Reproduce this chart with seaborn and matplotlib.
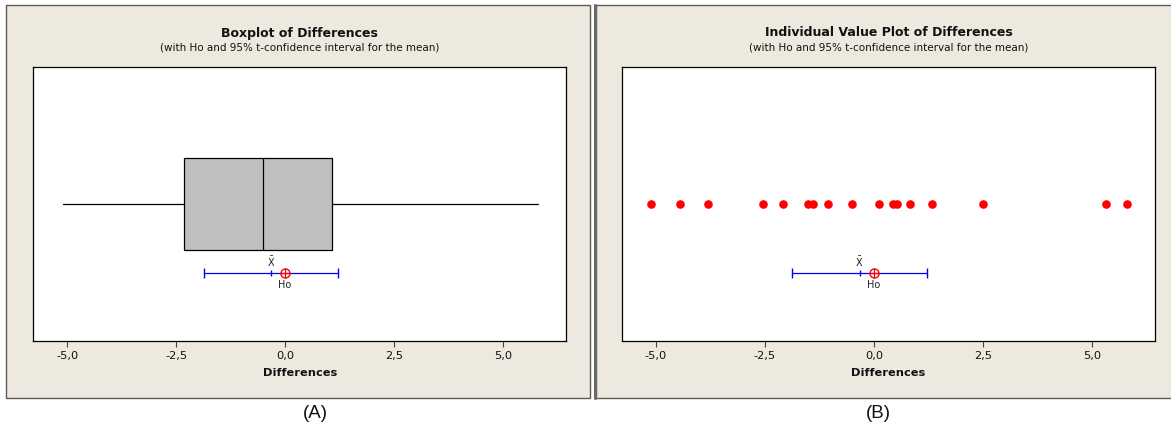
import numpy as np
import matplotlib
matplotlib.use("Agg")
import matplotlib.pyplot as plt
from matplotlib.patches import Rectangle
from matplotlib.lines import Line2D
import seaborn as sns

# ---- data ----
differences = [-5.10, -4.45, -3.80, -2.55, -2.09, -1.51, -1.39, -1.05, -0.51,
               0.12, 0.44, 0.54, 0.83, 1.34, 2.51, 5.33, 5.80]
ci_bounds = [-1.87, 1.22]          # 95% t-confidence interval for the mean
h0_value = 0.0
tick_values = [-5.0, -2.5, 0.0, 2.5, 5.0]
tick_labels = ["-5,0", "-2,5", "0,0", "2,5", "5,0"]
x_limits = [-5.78, 6.45]
titles = ["Boxplot of Differences", "Individual Value Plot of Differences"]
subtitle = "(with Ho and 95% t-confidence interval for the mean)"
panel_tags = ["(A)", "(B)"]

sns.set_theme(style="white")
plt.rcParams["font.family"] = ["DejaVu Sans"]

W, H = 1171, 428
fig = plt.figure(figsize=(W / 100, H / 100), dpi=100)
fig.patch.set_facecolor("white")

def fx(px):
    return px / W

def fy(py):
    return 1 - py / H

panel_bg = "#EDE9DF"
# panels
fig.add_artist(Rectangle((fx(6), fy(398)), (590 - 6) / W, (398 - 5) / H,
                         transform=fig.transFigure, facecolor=panel_bg,
                         edgecolor="#5a5a5a", lw=1.0, zorder=0))
fig.add_artist(Rectangle((fx(596), fy(398)), (1180 - 596) / W, (398 - 5) / H,
                         transform=fig.transFigure, facecolor=panel_bg,
                         edgecolor="#5a5a5a", lw=1.0, zorder=0))
fig.add_artist(Line2D([fx(595), fx(595)], [fy(5), fy(398)],
                      transform=fig.transFigure, color="#6a6a6a", lw=2.2, zorder=1))

axA = fig.add_axes([fx(33.3), fy(341), (566 - 33.3) / W, (341 - 67) / H])
axB = fig.add_axes([fx(621.7), fy(341), (1155.3 - 621.7) / W, (341 - 67) / H])

data = np.array(differences)
mean_val = data.mean()

# ---- (A) boxplot ----
q1, med, q3 = np.percentile(data, [25, 50, 75], method="weibull")
stats = [dict(med=med, q1=q1, q3=q3, whislo=data.min(), whishi=data.max(), fliers=[])]
axA.bxp(stats, positions=[0.5], widths=0.336, vert=False, showcaps=False,
        patch_artist=True,
        boxprops=dict(facecolor="#C0C0C0", edgecolor="black", linewidth=0.9),
        medianprops=dict(color="black", linewidth=0.9),
        whiskerprops=dict(color="black", linewidth=0.9))
axA.set_ylim(0, 1)

# ---- (B) individual value plot ----
sns.stripplot(x=data, ax=axB, jitter=False, color="red", size=6.2,
              linewidth=0, orient="h")
axB.set_ylim(0.5, -0.5)

for ax, title in zip([axA, axB], titles):
    ax.set_facecolor("white")
    ax.set_xlim(*x_limits)
    ax.set_xticks(tick_values)
    ax.set_xticklabels(tick_labels, fontsize=8.2, color="#111111")
    ax.set_yticks([])
    ax.set_ylabel("")
    ax.set_xlabel("")
    ax.tick_params(axis="x", direction="out", length=4, width=0.8,
                   color="#444444", pad=3, bottom=True)
    for sp in ax.spines.values():
        sp.set_visible(True)
        sp.set_color("black")
        sp.set_linewidth(0.9)
    tr = ax.get_xaxis_transform()
    y_ci = 0.248
    # CI line with end caps
    ax.plot(ci_bounds, [y_ci, y_ci], color="blue", lw=0.9, transform=tr, zorder=3)
    ax.plot(ci_bounds, [y_ci, y_ci], color="blue", lw=0, marker="|",
            markersize=7, markeredgewidth=1.0, transform=tr, zorder=3)
    # mean tick
    ax.plot([mean_val], [y_ci], color="blue", lw=0, marker="|", markersize=4,
            markeredgewidth=1.0, transform=tr, zorder=4)
    ax.text(mean_val, 0.287, r"$\bar{\mathrm{X}}$", transform=tr, ha="center",
            va="center", fontsize=7, color="#222222")
    # Ho marker
    ax.plot([h0_value], [y_ci], lw=0, marker="o", markersize=6.5,
            markerfacecolor="none", markeredgecolor="red", markeredgewidth=1.0,
            transform=tr, zorder=5)
    ax.plot([h0_value], [y_ci], lw=0, marker="+", markersize=6.5,
            markeredgecolor="red", markeredgewidth=0.9, transform=tr, zorder=5)
    ax.text(h0_value, 0.203, "Ho", transform=tr, ha="center", va="center",
            fontsize=7, color="#222222")

# titles and labels
for cx, title in zip([299.7, 888.5], titles):
    fig.text(fx(cx), fy(33), title, ha="center", va="center", fontsize=9,
             fontweight="bold", color="#111111")
    fig.text(fx(cx), fy(48), subtitle, ha="center", va="center", fontsize=7.5,
             color="#111111")
    fig.text(fx(cx), fy(373), "Differences", ha="center", va="center",
             fontsize=8.2, fontweight="bold", color="#111111")

for cx, tag in zip([315, 878], panel_tags):
    fig.text(fx(cx), fy(413), tag, ha="center", va="center", fontsize=13.5,
             family=["Liberation Sans", "DejaVu Sans"], color="#111111")

fig.savefig("out.png", dpi=100)
